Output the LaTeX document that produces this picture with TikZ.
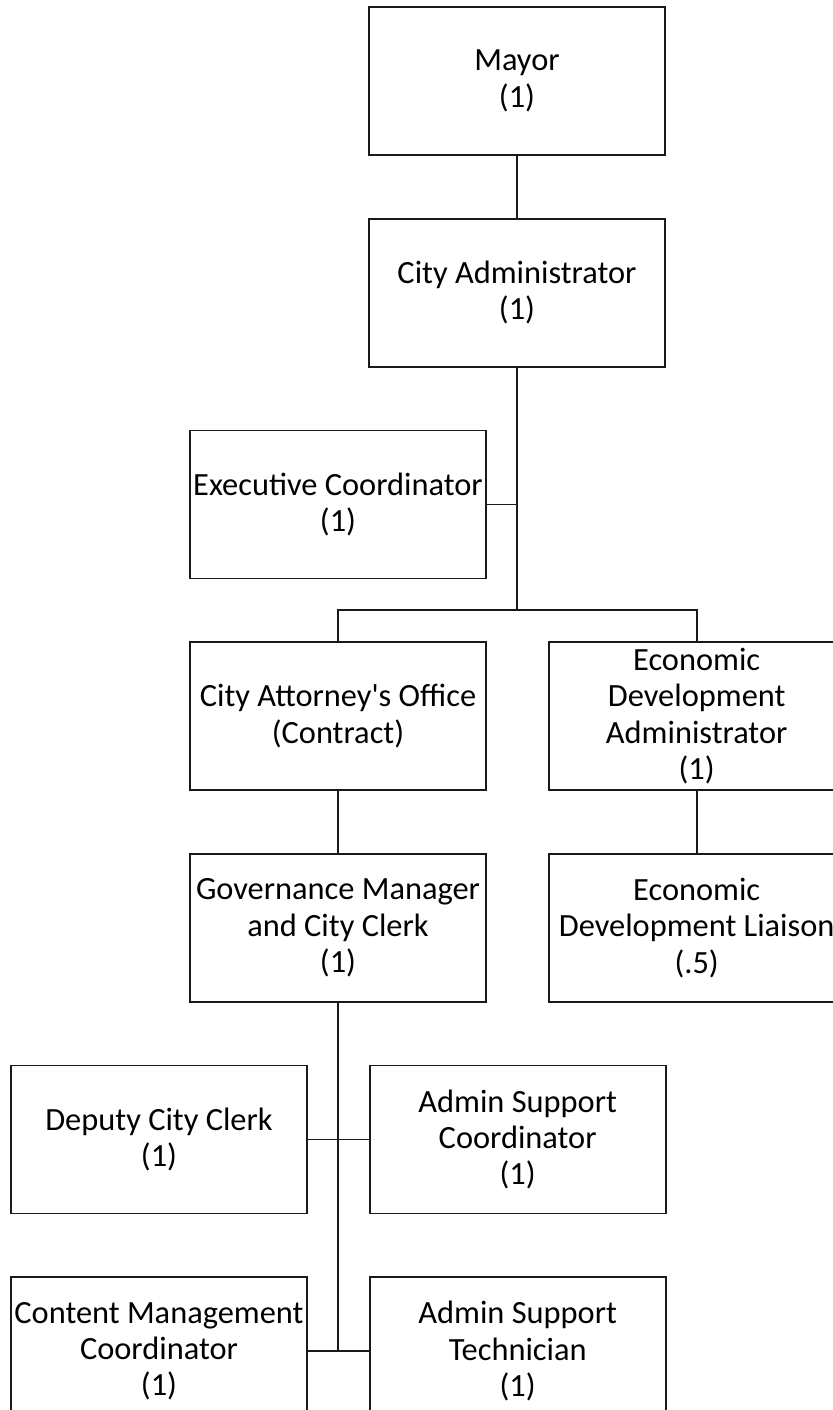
\documentclass[tikz,border=0pt]{standalone}
\usepackage{fontspec}
\setmainfont{Carlito}
\usetikzlibrary{calc,positioning}
\definecolor{Ink}{HTML}{1A1A1A}
\tikzset{
  post/.style={
    rectangle, draw=Ink, line width=0.85pt, fill=white,
    minimum width=148pt, minimum height=74pt, inner sep=1pt,
    align=center, font=\fontsize{16.2}{18.2}\selectfont
  },
  link/.style={line width=0.85pt, draw=Ink}
}
\begin{document}
\begin{tikzpicture}[node distance=31pt]
  \useasboundingbox (0,0) rectangle (416pt,-705pt);
  \node[post] (mayor) at (258.5pt,-40.5pt) {Mayor\\(1)};
  \node[post,below=of mayor] (cadmin) {City Administrator\\(1)};
  \node[post,below=of cadmin,xshift=-89.5pt] (exec) {Executive Coordinator\\(1)};
  \node[post,below=of exec] (catty) {City Attorney\textquotesingle s Office\\(Contract)};
  \node[post,right=30.5pt of catty] (eda) {Economic\\Development\\Administrator\\(1)};
  \node[post,below=of catty] (gov) {Governance Manager\\and City Clerk\\(1)};
  \node[post,below=of eda] (liaison) {Economic\\Development Liaison\\(.5)};
  \node[post,below=of gov,xshift=-89.5pt] (deputy) {Deputy City Clerk\\(1)};
  \node[post,right=30.5pt of deputy] (asc) {Admin Support\\Coordinator\\(1)};
  \node[post,below=of deputy] (content) {Content Management\\Coordinator\\(1)};
  \node[post,below=of asc] (ast) {Admin Support\\Technician\\(1)};
  \coordinate (split) at ([yshift=15.5pt]catty.north -| cadmin.south);
  \draw[link] (mayor) -- (cadmin);
  \draw[link] (cadmin.south) -- (split);
  \draw[link] (exec.east) -- (exec.east -| cadmin.south);
  \draw[link] (catty.north) |- (split) -| (eda.north);
  \draw[link] (catty) -- (gov);
  \draw[link] (eda) -- (liaison);
  \draw[link] (gov.south) -- (gov.south |- content.east);
  \draw[link] (deputy.east) -- (asc.west);
  \draw[link] (content.east) -- (ast.west);
\end{tikzpicture}
\end{document}
